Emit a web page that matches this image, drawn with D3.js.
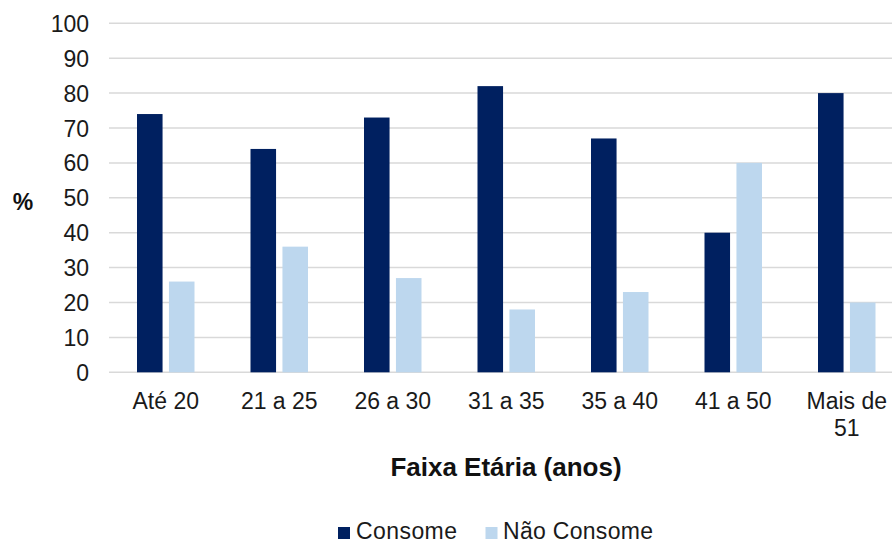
<!DOCTYPE html>
<html>
<head>
<meta charset="utf-8">
<script src="https://cdn.jsdelivr.net/npm/d3@7/dist/d3.min.js"></script>
<style>
  html, body { margin: 0; padding: 0; background: #fff; }
  svg { display: block; font-family: "Liberation Sans", Arial, sans-serif; }
</style>
</head>
<body>
<svg id="chart" width="892" height="544"></svg>
<script>
// Age groups (one label may wrap onto two lines)
const categories = ["Até 20", "21 a 25", "26 a 30", "31 a 35", "35 a 40", "41 a 50", "Mais de 51"];
const categoryLines = [["Até 20"], ["21 a 25"], ["26 a 30"], ["31 a 35"], ["35 a 40"], ["41 a 50"], ["Mais de", "51"]];
const seriesNames = ["Consome", "Não Consome"];
const consome = [74, 64, 73, 82, 67, 40, 80];
const naoConsome = [26, 36, 27, 18, 23, 60, 20];
const yTicks = [0, 10, 20, 30, 40, 50, 60, 70, 80, 90, 100];
const colors = ["#002060", "#BDD7EE"];

const svg = d3.select("#chart");
const plotLeft = 109, plotRight = 903.5, plotTop = 23.3, plotBottom = 372.3;

const x = d3.scaleBand().domain(categories).range([plotLeft, plotRight]).padding(0);
const inner = d3.scaleBand().domain(seriesNames)
  .range([28, x.bandwidth() - 28]).paddingInner(0.2).paddingOuter(0);
const y = d3.scaleLinear().domain([0, 100]).range([plotBottom, plotTop]);

// Horizontal gridlines
svg.append("g")
  .selectAll("line")
  .data(yTicks)
  .join("line")
  .attr("x1", plotLeft).attr("x2", 892)
  .attr("y1", d => y(d)).attr("y2", d => y(d))
  .attr("stroke", "#d9d9d9")
  .attr("stroke-width", 1.5);

// Y axis labels
const yAxis = d3.axisLeft(y).tickValues(yTicks).tickSize(0).tickPadding(0);
const yg = svg.append("g").attr("transform", `translate(89,0)`).call(yAxis);
yg.select(".domain").remove();
yg.selectAll("text")
  .attr("font-size", "23px")
  .attr("fill", "#1a1a1a")
  .attr("font-family", "'Liberation Sans', Arial, sans-serif")
  .attr("dy", "0.35em");

// Bars
const rows = categories.map((c, i) => ({ cat: c, vals: [consome[i], naoConsome[i]] }));
const groups = svg.append("g")
  .selectAll("g")
  .data(rows)
  .join("g")
  .attr("transform", d => `translate(${x(d.cat)},0)`);

groups.selectAll("rect")
  .data(d => d.vals.map((v, k) => ({ key: seriesNames[k], v, k })))
  .join("rect")
  .attr("x", d => inner(d.key))
  .attr("width", inner.bandwidth())
  .attr("y", d => y(d.v))
  .attr("height", d => y(0) - y(d.v))
  .attr("fill", d => colors[d.k]);

// Category labels
const catG = svg.append("g");
categories.forEach((c, i) => {
  const t = catG.append("text")
    .attr("x", x(c) + x.bandwidth() / 2)
    .attr("y", 409)
    .attr("text-anchor", "middle")
    .attr("font-size", "23px")
    .attr("fill", "#1a1a1a");
  categoryLines[i].forEach((line, j) => {
    t.append("tspan")
      .attr("x", x(c) + x.bandwidth() / 2)
      .attr("dy", j === 0 ? 0 : 27)
      .text(line);
  });
});

// Axis titles
svg.append("text")
  .attr("x", 506).attr("y", 476)
  .attr("text-anchor", "middle")
  .attr("font-size", "26px")
  .attr("font-weight", "bold")
  .attr("fill", "#111")
  .text("Faixa Etária (anos)");

svg.append("text")
  .attr("x", 23).attr("y", 210)
  .attr("text-anchor", "middle")
  .attr("font-size", "23px")
  .attr("font-weight", "bold")
  .attr("fill", "#111")
  .text("%");

// Legend
const legend = svg.append("g");
const legendItems = [
  { name: seriesNames[0], color: colors[0], sx: 338, tx: 356 },
  { name: seriesNames[1], color: colors[1], sx: 485.5, tx: 503 }
];
legendItems.forEach(it => {
  legend.append("rect")
    .attr("x", it.sx).attr("y", 527)
    .attr("width", 12).attr("height", 12)
    .attr("fill", it.color);
  legend.append("text")
    .attr("x", it.tx).attr("y", 538.5)
    .attr("font-size", "23px")
    .attr("textLength", it.name === "Consome" ? 101 : 150)
    .attr("fill", "#1a1a1a")
    .text(it.name);
});
</script>
</body>
</html>
